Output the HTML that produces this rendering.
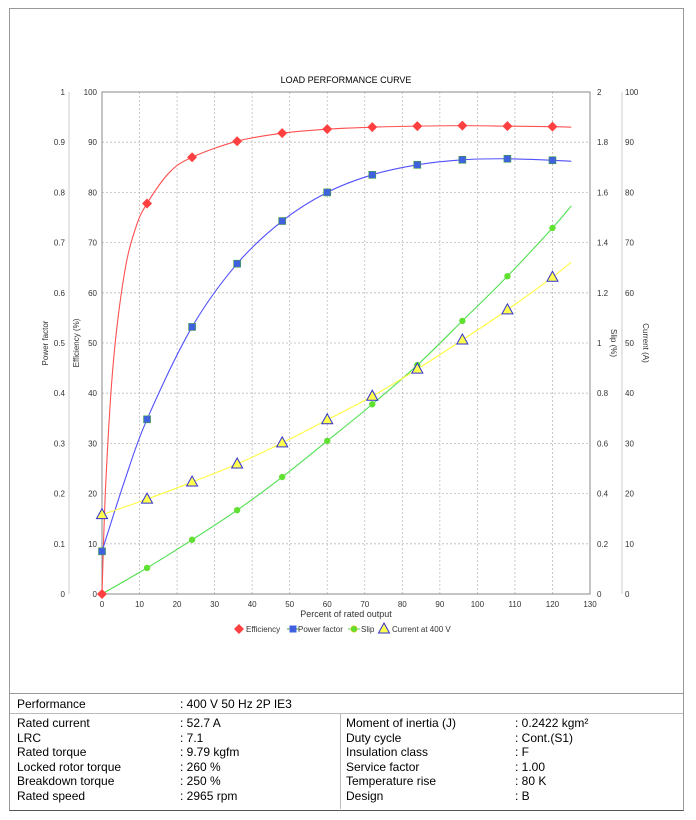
<!DOCTYPE html>
<html><head><meta charset="utf-8"><style>
body{margin:0;background:#fff;width:696px;height:820px;overflow:hidden;font-family:"Liberation Sans",Arial,sans-serif}
#frame{position:absolute;left:9px;top:8px;width:673px;height:801px;border:1px solid #999;border-bottom:1px solid #555}
.t{position:absolute;font-size:12px;color:#000;white-space:nowrap}
</style></head><body>
<div id="frame"></div>
<svg id="s" width="696" height="700" style="position:absolute;left:0;top:0" font-family="Liberation Sans, Arial, sans-serif"></svg>
<div style="position:absolute;left:10px;top:693px;width:673px;border-top:1px solid #999"></div>
<div style="position:absolute;left:10px;top:713px;width:673px;border-top:1px solid #bbb"></div>
<div style="position:absolute;left:340px;top:714px;height:95px;border-left:1px solid #bbb"></div>
<div class="t" style="left:17px;top:697px">Performance</div>
<div class="t" style="left:180px;top:697px">: 400 V 50 Hz 2P IE3</div>
<div class="t" style="left:17px;top:716px;line-height:14.6px">Rated current<br>LRC<br>Rated torque<br>Locked rotor torque<br>Breakdown torque<br>Rated speed</div>
<div class="t" style="left:180px;top:716px;line-height:14.6px">: 52.7 A<br>: 7.1<br>: 9.79 kgfm<br>: 260 %<br>: 250 %<br>: 2965 rpm</div>
<div class="t" style="left:346px;top:716px;line-height:14.6px">Moment of inertia (J)<br>Duty cycle<br>Insulation class<br>Service factor<br>Temperature rise<br>Design</div>
<div class="t" style="left:515px;top:716px;line-height:14.6px">: 0.2422 kgm²<br>: Cont.(S1)<br>: F<br>: 1.00<br>: 80 K<br>: B</div>
<script>
var s=document.getElementById('s'),h='';
function X(v){return 102+v*488/130}function Y(v){return 594-v*5.02}
for(var i=1;i<=13;i++){h+='<line x1="'+X(i*10)+'" x2="'+X(i*10)+'" y1="92" y2="594" stroke="#bbb" stroke-dasharray="2,2" stroke-width="0.8"/>';}
for(var j=1;j<10;j++){h+='<line x1="102" x2="590" y1="'+Y(j*10)+'" y2="'+Y(j*10)+'" stroke="#bbb" stroke-dasharray="2,2" stroke-width="0.8"/>';}
h+='<rect x="102" y="92" width="488" height="502" fill="none" stroke="#888"/>';
h+='<line x1="69" x2="69" y1="92" y2="594" stroke="#ccc"/><line x1="622" x2="622" y1="92" y2="594" stroke="#ccc"/>';
for(var j=0;j<=10;j++){var y=Y(j*10)+3;
h+='<text x="65" y="'+y+'" font-size="8" text-anchor="end" fill="#333">'+(j==0?'0':j==10?'1':'0.'+j)+'</text>';
h+='<text x="97" y="'+y+'" font-size="8" text-anchor="end" fill="#333">'+j*10+'</text>';
h+='<text x="597" y="'+y+'" font-size="8" fill="#333">'+(j==0?'0':j==5?'1':j==10?'2':(j*0.2).toFixed(1))+'</text>';
h+='<text x="625" y="'+y+'" font-size="8" fill="#333">'+j*10+'</text>';}
for(var i=0;i<=13;i++)h+='<text x="'+X(i*10)+'" y="607" font-size="8" text-anchor="middle" fill="#333">'+i*10+'</text>';
h+='<text x="346" y="83" font-size="9" text-anchor="middle">LOAD PERFORMANCE CURVE</text>';
h+='<text x="346" y="617" font-size="9" text-anchor="middle" fill="#333">Percent of rated output</text>';
function rt(x,t){h+='<text transform="translate('+x+',343) rotate(-90)" font-size="8" text-anchor="middle" fill="#333">'+t+'</text>';}
function rt2(x,t){h+='<text transform="translate('+x+',343) rotate(90)" font-size="8" text-anchor="middle" fill="#333">'+t+'</text>';}
rt(48,'Power factor');rt(79,'Efficiency (%)');rt2(611,'Slip (%)');rt2(643,'Current (A)');
function curve(p,c){var d='M'+X(p[0][0])+','+Y(p[0][1]);
for(var i=0;i<p.length-1;i++){var p0=p[i-1]||p[i],p1=p[i],p2=p[i+1],p3=p[i+2]||p2;
var c1x=p1[0]+(p2[0]-p0[0])/6,c1y=p1[1]+(p2[1]-p0[1])/6,c2x=p2[0]-(p3[0]-p1[0])/6,c2y=p2[1]-(p3[1]-p1[1])/6;
d+=' C'+X(c1x)+','+Y(c1y)+' '+X(c2x)+','+Y(c2y)+' '+X(p2[0])+','+Y(p2[1]);}
h+='<path d="'+d+'" fill="none" stroke="'+c+'" stroke-width="1.1"/>';}
var xs=[0,12,24,36,48,60,72,84,96,108,120];
var ef=[0,77.8,87,90.2,91.8,92.6,93,93.2,93.3,93.2,93.1];
var pf=[8.5,34.8,53.2,65.8,74.3,80,83.5,85.5,86.5,86.7,86.4];
var sl=[0,5.2,10.8,16.7,23.3,30.5,37.8,45.6,54.4,63.3,72.9];
var cu=[15.8,18.9,22.3,25.9,30.1,34.7,39.4,44.8,50.6,56.6,63.1];
curve([[0,0],[1,22],[3,46],[6,64],[9,73],[12,77.8],[18,84],[24,87],[36,90.2],[48,91.8],[60,92.6],[72,93],[84,93.2],[96,93.3],[108,93.2],[120,93.1],[125,93]],'#ff5050');
curve([[0,8.5],[6,22.5],[12,34.8],[24,53.2],[36,65.8],[48,74.3],[60,80],[72,83.5],[84,85.5],[96,86.5],[108,86.7],[120,86.4],[125,86.2]],'#5050ff');
curve([[0,0],[12,5.2],[24,10.8],[36,16.7],[48,23.3],[60,30.5],[72,37.8],[84,45.6],[96,54.4],[108,63.3],[120,72.9],[125,77.3]],'#50e050');
curve([[0,15.8],[12,18.9],[24,22.3],[36,25.9],[48,30.1],[60,34.7],[72,39.4],[84,44.8],[96,50.6],[108,56.6],[120,63.1],[125,66.1]],'#ffff40');
for(var i=0;i<11;i++){var x=X(xs[i]);
var y=Y(ef[i]);h+='<path d="M'+x+','+(y-5)+' L'+(x+5)+','+y+' L'+x+','+(y+5)+' L'+(x-5)+','+y+'Z" fill="#ff4040"/>';
y=Y(pf[i]);h+='<rect x="'+(x-3.5)+'" y="'+(y-3.5)+'" width="7" height="7" fill="#4060e0" stroke="#40a040" stroke-width="0.6"/>';
y=Y(sl[i]);if(i>0)h+='<circle cx="'+x+'" cy="'+y+'" r="3.2" fill="#60e030"/>';
y=Y(cu[i]);h+='<path d="M'+x+','+(y-6)+' L'+(x+5.5)+','+(y+4)+' L'+(x-5.5)+','+(y+4)+'Z" fill="#ffff50" stroke="#3030d0" stroke-width="1"/>';}
var ly=629;
h+='<path d="M239,'+(ly-5)+' L244,'+ly+' L239,'+(ly+5)+' L234,'+ly+'Z" fill="#ff4040"/><text x="246" y="'+(ly+3)+'" font-size="8" fill="#333">Efficiency</text>';
h+='<line x1="287" x2="299" y1="'+ly+'" y2="'+ly+'" stroke="#40a040"/><rect x="289.5" y="'+(ly-3.5)+'" width="7" height="7" fill="#4060e0"/><text x="298" y="'+(ly+3)+'" font-size="8" fill="#333">Power factor</text>';
h+='<line x1="348" x2="360" y1="'+ly+'" y2="'+ly+'" stroke="#50e050"/><circle cx="354" cy="'+ly+'" r="3.2" fill="#60e030" stroke="#e0c020" stroke-width="0.6"/><text x="361" y="'+(ly+3)+'" font-size="8" fill="#333">Slip</text>';
h+='<path d="M365,'+(ly-6)+' L370.5,'+(ly+4)+' L359.5,'+(ly+4)+'Z" transform="translate(19,0)" fill="#ffff50" stroke="#3030d0"/><text x="392" y="'+(ly+3)+'" font-size="8" fill="#333">Current at 400 V</text>';
s.innerHTML=h;
</script>
</body></html>
